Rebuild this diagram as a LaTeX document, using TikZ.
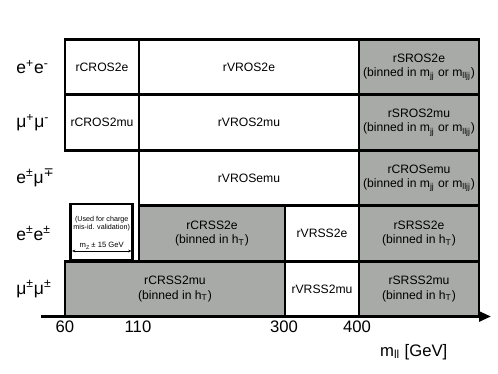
\documentclass[tikz,border=0pt]{standalone}
\usepackage{fontspec}
\setmainfont{Liberation Sans}
\newfontfamily\symfont{DejaVu Sans}
\usepackage{xcolor}
\usetikzlibrary{arrows.meta}
\definecolor{regiongray}{RGB}{168,170,167}

\begin{document}
\begin{tikzpicture}[
  x=0.6pt, y=-0.6pt,
  box/.style={draw, line width=1.7pt, align=center, inner sep=0pt, minimum height=33.3pt, font=\fontsize{7.3}{8.6}\selectfont},
  shaded/.style={box, fill=regiongray},
  plain/.style={box, fill=white},
  chan/.style={anchor=west, inner sep=0pt, font=\fontsize{10.5}{12}\selectfont},
  tick/.style={font=\fontsize{10}{12}\selectfont},
  axis/.style={line width=1.7pt, -{Triangle[length=7.2pt, width=6pt]}}
]
\useasboundingbox (0,0) rectangle (498,374);
% lepton channels
\node[chan] (ee) at (16,67) {e\textsuperscript{+}e\textsuperscript{-}};
\node[chan] (mumu) at (16,122.5) {μ\textsuperscript{+}μ\textsuperscript{-}};
\node[chan] (emu) at (16,178) {e\textsuperscript{±}μ\textsuperscript{\symfont ∓}};
\node[chan] (ssee) at (16,233.5) {e\textsuperscript{±}e\textsuperscript{±}};
\node[chan] (ssmumu) at (16,289) {μ\textsuperscript{±}μ\textsuperscript{±}};
% opposite sign
\node[plain, minimum width=44.4pt] (crOSee) at (102,67) {rCROS2e};
\node[plain, minimum width=132pt] (vrOSee) at (249,67) {rVROS2e};
\node[shaded, minimum width=72pt] (srOSee) at (419,67) {rSROS2e\\(binned in m\textsubscript{jj} or m\textsubscript{lljj})};
\node[plain, minimum width=44.4pt] (crOSmumu) at (102,122.5) {rCROS2mu};
\node[plain, minimum width=132pt] (vrOSmumu) at (249,122.5) {rVROS2mu};
\node[shaded, minimum width=72pt] (srOSmumu) at (419,122.5) {rSROS2mu\\(binned in m\textsubscript{jj} or m\textsubscript{lljj})};
\node[plain, minimum width=132pt] (vrOSemu) at (249,178) {rVROSemu};
\node[shaded, minimum width=72pt] (crOSemu) at (419,178) {rCROSemu\\(binned in m\textsubscript{jj} or m\textsubscript{lljj})};
% same sign
\node[plain, minimum width=37.2pt, minimum height=33.6pt] (zwin) at (101.7,232) {};
\node[align=center, inner sep=0pt, font=\fontsize{4.3}{5.2}\selectfont] (zwinnote) at (101.7,223.5) {(Used for charge\\mis-id. validation)};
\node[shaded, minimum width=87.6pt] (crSSee) at (212,233.5) {rCRSS2e\\(binned in h\textsubscript{T})};
\node[plain, minimum width=44.4pt] (vrSSee) at (322,233.5) {rVRSS2e};
\node[shaded, minimum width=72pt] (srSSee) at (419,233.5) {rSRSS2e\\(binned in h\textsubscript{T})};
\node[shaded, minimum width=132pt] (crSSmumu) at (175,289) {rCRSS2mu\\(binned in h\textsubscript{T})};
\node[plain, minimum width=44.4pt] (vrSSmumu) at (322,289) {rVRSS2mu};
\node[shaded, minimum width=72pt] (srSSmumu) at (419,289) {rSRSS2mu\\(binned in h\textsubscript{T})};
% Z window
\coordinate (zlo) at (72,251);
\coordinate (zhi) at (131.5,251);
\draw[{Stealth[length=2pt,width=1.6pt]}-{Stealth[length=2pt,width=1.6pt]}, line width=0.4pt] (zlo) -- (zhi)
  node[midway, above=0.6pt, inner sep=0pt, font=\fontsize{4.6}{5.5}\selectfont] (zwidth) {m\textsubscript{Z}\,± 15 GeV};
% axis
\coordinate (axisstart) at (41,316.5);
\coordinate (axisend) at (491,316.5);
\draw[axis] (axisstart) -- (axisend);
\node[tick] (t60) at (65,327) {60};
\node[tick] (t110) at (138,327) {110};
\node[tick] (t300) at (284,327) {300};
\node[tick] (t400) at (357,327) {400};
\node[tick] (mll) at (413.7,351.7) {m\textsubscript{ll} [GeV]};
\end{tikzpicture}
\end{document}
